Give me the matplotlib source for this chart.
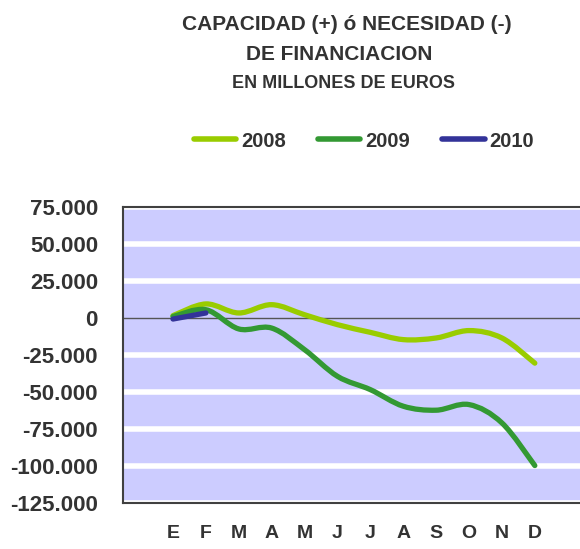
import numpy as np
import matplotlib.pyplot as plt
from matplotlib.path import Path
from matplotlib.patches import PathPatch
from matplotlib.lines import Line2D

# months (Spanish initials)
months = ['E', 'F', 'M', 'A', 'M', 'J', 'J', 'A', 'S', 'O', 'N', 'D']
years = ['2008', '2009', '2010']
colors = ['#99CC00', '#339933', '#333399']

# millions of euros
v2008 = [1600, 9500, 3400, 9000, 2200, -4500, -9700, -14600, -13500, -8500, -13500, -30500]
v2009 = [1000, 5600, -7400, -6800, -21400, -39400, -48400, -59600, -62300, -58500, -70900, -99700]
v2010 = [-700, 3400]
series = [v2008, v2009, v2010]

yticks = np.arange(-125000, 75001, 25000)

def fmt(v):
    return '{:,}'.format(int(v)).replace(',', '.')

def smooth_path(y):
    # smoothed line (catmull-rom as bezier), like the spreadsheet's smoothed lines
    x = np.arange(len(y), dtype=float)
    y = np.asarray(y, dtype=float)
    p = np.column_stack([x, y])
    verts = [p[0]]
    codes = [Path.MOVETO]
    n = len(p)
    for i in range(n - 1):
        p0 = p[i - 1] if i > 0 else p[i]
        p3 = p[i + 2] if i + 2 < n else p[i + 1]
        c1 = p[i] + (p[i + 1] - p0) / 6
        c2 = p[i + 1] - (p3 - p[i]) / 6
        verts += [c1, c2, p[i + 1]]
        codes += [Path.CURVE4] * 3
    return Path(verts, codes)

fig = plt.figure(figsize=(5.8, 5.49), dpi=100)
ax = fig.add_axes([123 / 580, 46 / 549, 1.0 - 123 / 580 + 0.01, 296 / 549])
ax.set_facecolor('#CCCCFF')

for t in yticks:
    if t != 0:
        ax.axhline(t, color='white', lw=4, zorder=1)
ax.axhline(0, color='#555555', lw=1, zorder=2)

for vals, c in zip(series, colors):
    ax.add_patch(PathPatch(smooth_path(vals), facecolor='none', edgecolor=c,
                           lw=3.8, capstyle='round', joinstyle='round', zorder=3))

ax.set_xlim(-1.52, 12.55)
ax.set_ylim(-125000, 75000)
ax.set_yticks(yticks)
ax.set_yticklabels([fmt(t) for t in yticks])
ax.set_xticks(range(len(months)))
ax.set_xticklabels(months)
ax.tick_params(axis='y', length=0, pad=18, labelsize=16, labelcolor='#333333')
ax.tick_params(axis='x', length=0, pad=16, labelsize=14, labelcolor='#333333')
for lab in ax.get_xticklabels() + ax.get_yticklabels():
    lab.set_fontfamily(['Liberation Sans', 'DejaVu Sans'])
    lab.set_fontweight('bold')
for s in ax.spines.values():
    s.set_color('#404040')
    s.set_linewidth(1.5)

tfont = ['Liberation Sans', 'DejaVu Sans']
fig.text(347 / 580, 1 - 24 / 549, 'CAPACIDAD (+) ó NECESIDAD (-)', ha='center', va='center',
         fontsize=15, fontweight='bold', color='#333333', family=tfont)
fig.text(339 / 580, 1 - 54 / 549, 'DE FINANCIACION', ha='center', va='center',
         fontsize=15, fontweight='bold', color='#333333', family=tfont)
fig.text(344 / 580, 1 - 84 / 549, 'EN MILLONES DE EUROS', ha='center', va='center',
         fontsize=13, fontweight='bold', color='#333333', family=tfont)

handles = [Line2D([], [], color=c, lw=4, solid_capstyle='round') for c in colors]
leg = fig.legend(handles, years, loc='center', bbox_to_anchor=(364 / 580, 1 - 141 / 549),
                 ncol=3, frameon=False, handlelength=2.1, handletextpad=0.25,
                 columnspacing=1.6, prop={'family': ['Liberation Sans', 'DejaVu Sans'],
                                          'weight': 'bold', 'size': 14.5})
for t in leg.get_texts():
    t.set_color('#333333')

fig.savefig('out.png', dpi=100)
